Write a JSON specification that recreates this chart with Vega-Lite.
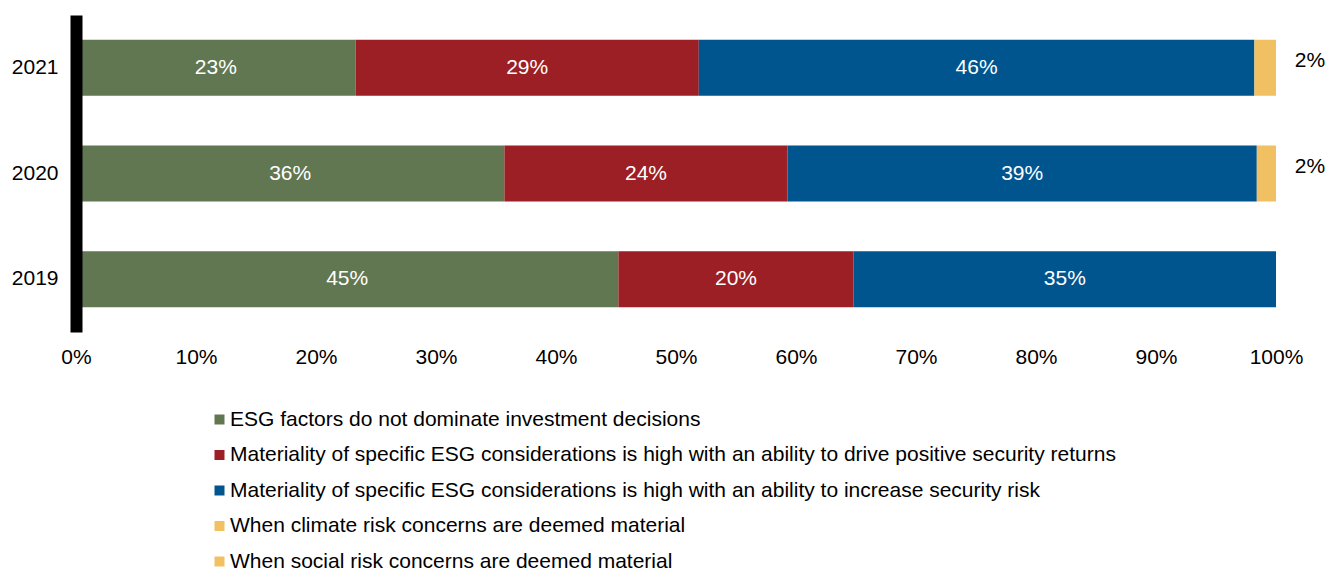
{
  "$schema": "https://vega.github.io/schema/vega-lite/v6.json",
  "width": 1200,
  "height": 317,
  "autosize": {"type": "none"},
  "padding": {"left": 76, "top": 15, "right": 54, "bottom": 238},
  "background": "white",
  "config": {
    "view": {"stroke": null},
    "font": "Liberation Sans",
    "axis": {"labelFont": "Liberation Sans", "labelFontSize": 21, "labelColor": "#000000", "grid": false, "ticks": false},
    "legend": {"labelFont": "Liberation Sans", "labelFontSize": 21, "labelColor": "#000000"}
  },
  "data": {
    "values": [
      {"year": "2021", "category": "ESG factors do not dominate investment decisions", "value": 0.233},
      {"year": "2021", "category": "Materiality of specific ESG considerations is high with an ability to drive positive security returns", "value": 0.286},
      {"year": "2021", "category": "Materiality of specific ESG considerations is high with an ability to increase security risk", "value": 0.463},
      {"year": "2021", "category": "When climate risk concerns are deemed material", "value": 0.018},
      {"year": "2020", "category": "ESG factors do not dominate investment decisions", "value": 0.357},
      {"year": "2020", "category": "Materiality of specific ESG considerations is high with an ability to drive positive security returns", "value": 0.236},
      {"year": "2020", "category": "Materiality of specific ESG considerations is high with an ability to increase security risk", "value": 0.391},
      {"year": "2020", "category": "When climate risk concerns are deemed material", "value": 0.016},
      {"year": "2019", "category": "ESG factors do not dominate investment decisions", "value": 0.452},
      {"year": "2019", "category": "Materiality of specific ESG considerations is high with an ability to drive positive security returns", "value": 0.196},
      {"year": "2019", "category": "Materiality of specific ESG considerations is high with an ability to increase security risk", "value": 0.352}
    ]
  },
  "transform": [
    {"stack": "value", "groupby": ["year"], "sort": [{"field": "category", "order": "ascending"}], "as": ["s0", "s1"]},
    {"calculate": "(datum.s0 + datum.s1) / 2", "as": "mid"}
  ],
  "encoding": {
    "y": {
      "field": "year", "type": "nominal", "sort": ["2021", "2020", "2019"],
      "scale": {"paddingInner": 0.47, "paddingOuter": 0.235},
      "axis": {"title": null, "domainColor": "#000000", "domainWidth": 12, "labelPadding": 18, "zindex": 1}
    }
  },
  "layer": [
    {
      "mark": {"type": "bar"},
      "encoding": {
        "x": {
          "field": "s0", "type": "quantitative",
          "scale": {"domain": [0, 1], "nice": false},
          "axis": {"title": null, "format": ".0%", "values": [0, 0.1, 0.2, 0.3, 0.4, 0.5, 0.6, 0.7, 0.8, 0.9, 1], "domain": false, "labelPadding": 14, "labelFlush": false}
        },
        "x2": {"field": "s1"},
        "color": {
          "field": "category", "type": "nominal",
          "scale": {
            "domain": [
              "ESG factors do not dominate investment decisions",
              "Materiality of specific ESG considerations is high with an ability to drive positive security returns",
              "Materiality of specific ESG considerations is high with an ability to increase security risk",
              "When climate risk concerns are deemed material",
              "When social risk concerns are deemed material"
            ],
            "range": ["#617752", "#9B1F24", "#00558F", "#F0C062", "#F0C062"]
          },
          "legend": {
            "title": null, "orient": "none", "legendX": 133, "legendY": 394,
            "symbolType": "square", "symbolSize": 100, "symbolStrokeWidth": 0,
            "rowPadding": 13.5, "labelOffset": 0, "labelLimit": 1200
          }
        }
      }
    },
    {
      "transform": [{"filter": "datum.category !== 'When climate risk concerns are deemed material'"}],
      "mark": {"type": "text", "color": "white", "fontSize": 21, "align": "center", "baseline": "middle"},
      "encoding": {
        "x": {"field": "mid", "type": "quantitative"},
        "text": {"field": "value", "type": "quantitative", "format": ".0%"}
      }
    },
    {
      "transform": [{"filter": "datum.category === 'When climate risk concerns are deemed material'"}],
      "mark": {"type": "text", "color": "black", "fontSize": 21, "align": "center", "baseline": "middle", "dx": 34, "dy": -7},
      "encoding": {
        "x": {"field": "s1", "type": "quantitative"},
        "text": {"field": "value", "type": "quantitative", "format": ".0%"}
      }
    }
  ]
}
